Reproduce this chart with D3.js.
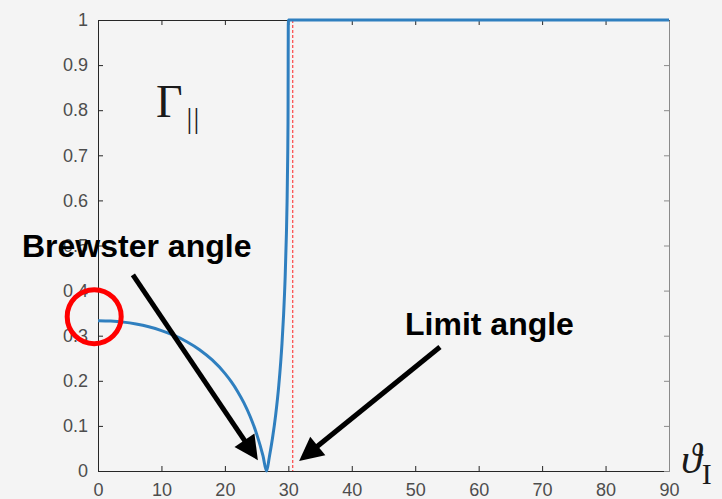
<!DOCTYPE html>
<html>
<head>
<meta charset="utf-8">
<script src="https://cdn.jsdelivr.net/npm/d3@7"></script>
<style>
  html, body { margin: 0; padding: 0; background: #f4f4f4; }
  svg { display: block; }
</style>
</head>
<body>
<script>
// Parallel reflection coefficient |Γ∥| against incidence angle (degrees)
const angles = [0, 2, 4, 6, 8, 10, 12, 14, 16, 18, 20, 21, 22, 23, 24, 25, 26, 26.57,
                27, 27.5, 28, 28.5, 29, 29.25, 29.5, 29.7, 29.8, 29.9, 29.95, 30, 40, 50, 60, 70, 80, 90];
const gamma  = [0.3333, 0.3325, 0.3301, 0.3258, 0.3197, 0.3114, 0.3006, 0.2867, 0.2690, 0.2462,
                0.2165, 0.1981, 0.1765, 0.1510, 0.1202, 0.0823, 0.0339, 0.0,
                0.0307, 0.0724, 0.1240, 0.1905, 0.2826, 0.3457, 0.4301, 0.5272, 0.5958, 0.6961, 0.7748,
                1, 1, 1, 1, 1, 1, 1];
const limitAngle = 30.7;
const xTicks = [0, 10, 20, 30, 40, 50, 60, 70, 80, 90];
const yTicks = [0, 0.1, 0.2, 0.3, 0.4, 0.5, 0.6, 0.7, 0.8, 0.9, 1];

const W = 722, H = 499;
const svg = d3.select("body").append("svg").attr("width", W).attr("height", H);
svg.append("rect").attr("width", W).attr("height", H).attr("fill", "#f4f4f4");

const x = d3.scaleLinear().domain([0, 90]).range([98, 669]);
const y = d3.scaleLinear().domain([0, 1]).range([471, 20]);

const tickFont = "Liberation Sans, Arial, Helvetica, sans-serif";

// axes: left/bottom with labels, top/right mirrored ticks only
function styleAxis(g, color) {
  g.select(".domain").attr("stroke", color).attr("stroke-width", 1);
  g.selectAll(".tick line").attr("stroke", color);
  g.selectAll(".tick text").attr("fill", "#4d4d4d").attr("font-size", 18).attr("font-family", tickFont);
}
const gx = svg.append("g").attr("transform", `translate(0,${y(0)})`)
  .call(d3.axisBottom(x).tickValues(xTicks).tickFormat(d3.format("d")).tickSizeInner(-5).tickSizeOuter(0).tickPadding(12));
styleAxis(gx, "#262626");
const gy = svg.append("g").attr("transform", `translate(${x(0)},0)`)
  .call(d3.axisLeft(y).tickValues(yTicks).tickFormat(d => d3.format("~g")(d)).tickSizeInner(-5).tickSizeOuter(0).tickPadding(10));
styleAxis(gy, "#262626");
const gt = svg.append("g").attr("transform", `translate(0,${y(1)})`)
  .call(d3.axisTop(x).tickValues(xTicks).tickFormat("").tickSizeInner(-5).tickSizeOuter(0));
styleAxis(gt, "#262626");
const gr = svg.append("g").attr("transform", `translate(${x(90)},0)`)
  .call(d3.axisRight(y).tickValues(yTicks).tickFormat("").tickSizeInner(-5).tickSizeOuter(0));
styleAxis(gr, "#8a8a8a");

// limit angle marker
svg.append("line")
  .attr("x1", x(limitAngle)).attr("x2", x(limitAngle))
  .attr("y1", y(1)).attr("y2", y(0))
  .attr("stroke", "#ff2020").attr("stroke-width", 1).attr("stroke-dasharray", "3,2");

// reflection curve
const pts = angles.map((a, i) => [a, gamma[i]]);
svg.append("path")
  .datum(pts)
  .attr("fill", "none")
  .attr("stroke", "#2f7fbf")
  .attr("stroke-width", 3)
  .attr("stroke-linejoin", "round")
  .attr("d", d3.line().x(d => x(d[0])).y(d => y(d[1])).curve(d3.curveMonotoneX));

// annotation arrows
function arrow(x0, y0, x1, y1) {
  const ang = Math.atan2(y1 - y0, x1 - x0);
  const len = 24, half = 12;
  const bx = x1 - len * Math.cos(ang), by = y1 - len * Math.sin(ang);
  svg.append("line").attr("x1", x0).attr("y1", y0).attr("x2", bx + 4 * Math.cos(ang)).attr("y2", by + 4 * Math.sin(ang))
    .attr("stroke", "#000").attr("stroke-width", 5);
  const px = -Math.sin(ang), py = Math.cos(ang);
  svg.append("polygon")
    .attr("points", [[x1, y1], [bx + half * px, by + half * py], [bx - half * px, by - half * py]].map(p => p.join(",")).join(" "))
    .attr("fill", "#000");
}
arrow(x(5.5), y(0.435), x(25.2), y(0.024));
arrow(x(53.9), y(0.275), x(31.7), y(0.022));

// highlight of the normal-incidence value
svg.append("circle")
  .attr("cx", x(-0.6)).attr("cy", y(gamma[0]) - 4)
  .attr("r", 27)
  .attr("fill", "none").attr("stroke", "#ff0000").attr("stroke-width", 5);

// labels
const boldFont = "Liberation Sans, Arial, sans-serif";
svg.append("text").attr("x", 22).attr("y", 257)
  .attr("font-family", boldFont).attr("font-weight", "bold").attr("font-size", 32)
  .attr("fill", "#000").text("Brewster angle");
svg.append("text").attr("x", 405).attr("y", 335)
  .attr("font-family", boldFont).attr("font-weight", "bold").attr("font-size", 32)
  .attr("fill", "#000").text("Limit angle");

const serif = "Liberation Serif, Times New Roman, DejaVu Serif, serif";
const gam = svg.append("text").attr("x", 156).attr("y", 117)
  .attr("font-family", serif).attr("font-size", 46).attr("fill", "#1a1a1a");
gam.append("tspan").text("Γ");
gam.append("tspan").attr("dx", 4).attr("dy", 11).attr("font-size", 29).attr("letter-spacing", 1).text("||");

const th = svg.append("text").attr("x", 681).attr("y", 473)
  .attr("font-family", serif).attr("font-size", 42).attr("fill", "#1a1a1a");
th.append("tspan").attr("font-style", "italic").text("ϑ");
th.append("tspan").attr("dy", 11).attr("font-size", 30).text("I");
</script>
</body>
</html>
